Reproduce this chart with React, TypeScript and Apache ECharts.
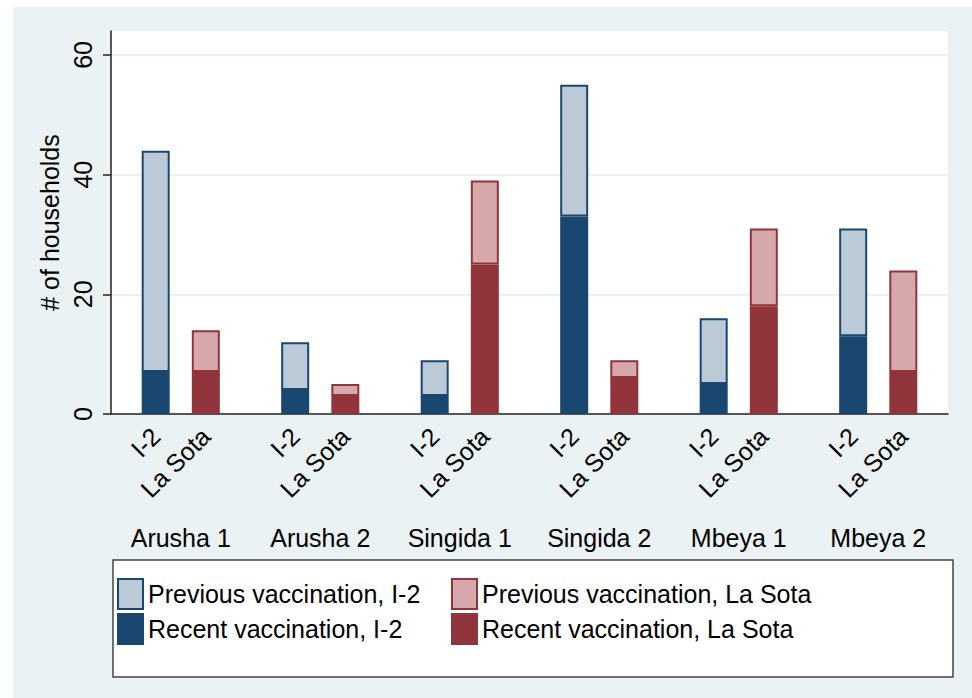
import React, { useEffect, useRef } from 'react';
import * as echarts from 'echarts';

const regions = ['Arusha 1', 'Arusha 2', 'Singida 1', 'Singida 2', 'Mbeya 1', 'Mbeya 2'];
const vaccines = ['I-2', 'La Sota'];
const recentI2 = [7, 4, 3, 33, 5, 13];
const previousI2 = [37, 8, 6, 22, 11, 18];
const recentLaSota = [7, 3, 25, 6, 18, 7];
const previousLaSota = [7, 2, 14, 3, 13, 17];
const yTicks = [0, 20, 40, 60];
const yMin = 0;
const yMax = 64;
const yTitle = '# of households';
const seriesNames = [
  'Recent vaccination, I-2',
  'Previous vaccination, I-2',
  'Recent vaccination, La Sota',
  'Previous vaccination, La Sota',
];

const NAVY = '#1a476f';
const MAROON = '#90353b';
const LIGHT_NAVY = '#bccad7';
const LIGHT_MAROON = '#d6a8ac';
const FONT = '"Liberation Sans", Arial, Helvetica, sans-serif';

const barLabel = (text: string) => ({
  show: true,
  position: 'bottom',
  distance: 18,
  rotate: 45,
  align: 'right',
  verticalAlign: 'middle',
  formatter: text,
  fontSize: 25,
  color: '#000',
  fontFamily: FONT,
});

const legendBase = {
  orient: 'vertical',
  top: 578,
  padding: 0,
  itemWidth: 25,
  itemHeight: 30,
  itemGap: 3,
  icon: 'rect',
  textStyle: { fontSize: 25, color: '#000', fontFamily: FONT },
  selectedMode: false,
};

export default function App() {
  const ref = useRef<HTMLDivElement>(null);
  useEffect(() => {
    const chart = echarts.init(ref.current!, null, { renderer: 'svg' });
    const option: any = {
      animation: false,
      textStyle: { fontFamily: FONT },
      grid: {
        left: 111,
        top: 31,
        width: 837,
        height: 383,
        show: true,
        backgroundColor: '#ffffff',
        borderWidth: 0,
      },
      xAxis: {
        type: 'category',
        data: regions,
        axisTick: { show: false },
        axisLine: { show: true, lineStyle: { color: '#222', width: 1.5 } },
        axisLabel: { margin: 111, fontSize: 25, color: '#000', fontFamily: FONT },
        splitLine: { show: false },
      },
      yAxis: {
        type: 'value',
        min: yMin,
        max: yMax,
        interval: 20,
        name: yTitle,
        nameLocation: 'middle',
        nameGap: 41,
        nameTextStyle: { fontSize: 25, color: '#000', fontFamily: FONT },
        axisLine: { show: true, lineStyle: { color: '#222', width: 1.5 } },
        axisTick: { show: true, length: 8, customValues: yTicks, lineStyle: { color: '#222', width: 1.5 } },
        axisLabel: {
          customValues: yTicks,
          rotate: 90,
          margin: 16,
          fontSize: 25,
          color: '#000',
          fontFamily: FONT,
        },
        splitLine: { show: true, lineStyle: { color: '#e3edf0', width: 1.5 } },
      },
      legend: [
        { ...legendBase, left: 117, data: [seriesNames[1], seriesNames[0]] },
        { ...legendBase, left: 451, data: [seriesNames[3], seriesNames[2]] },
      ],
      graphic: [
        {
          type: 'rect',
          shape: { x: 113, y: 560, width: 840, height: 117 },
          style: { fill: '#ffffff', stroke: '#444', lineWidth: 1.5 },
          z: 0,
        },
      ],
      series: [
        {
          name: seriesNames[0],
          type: 'bar',
          stack: 'i2',
          data: recentI2,
          barWidth: 28,
          barGap: '79%',
          itemStyle: { color: NAVY, borderColor: NAVY, borderWidth: 1.5 },
          label: barLabel(vaccines[0]),
        },
        {
          name: seriesNames[1],
          type: 'bar',
          stack: 'i2',
          data: previousI2,
          barWidth: 28,
          barGap: '79%',
          itemStyle: { color: LIGHT_NAVY, borderColor: NAVY, borderWidth: 2 },
        },
        {
          name: seriesNames[2],
          type: 'bar',
          stack: 'ls',
          data: recentLaSota,
          barWidth: 28,
          barGap: '79%',
          itemStyle: { color: MAROON, borderColor: MAROON, borderWidth: 1.5 },
          label: barLabel(vaccines[1]),
        },
        {
          name: seriesNames[3],
          type: 'bar',
          stack: 'ls',
          data: previousLaSota,
          barWidth: 28,
          barGap: '79%',
          itemStyle: { color: LIGHT_MAROON, borderColor: MAROON, borderWidth: 2 },
        },
      ],
    };
    chart.setOption(option);
    return () => chart.dispose();
  }, []);
  return (
    <div style={{ position: 'fixed', left: 0, top: 0, width: 972, height: 698, background: '#ffffff' }}>
      <div style={{ position: 'absolute', left: 13, top: 7, right: 0, bottom: 0, background: '#eaf2f3' }} />
      <div ref={ref} style={{ position: 'absolute', left: 0, top: 0, width: 972, height: 698 }} />
    </div>
  );
}
